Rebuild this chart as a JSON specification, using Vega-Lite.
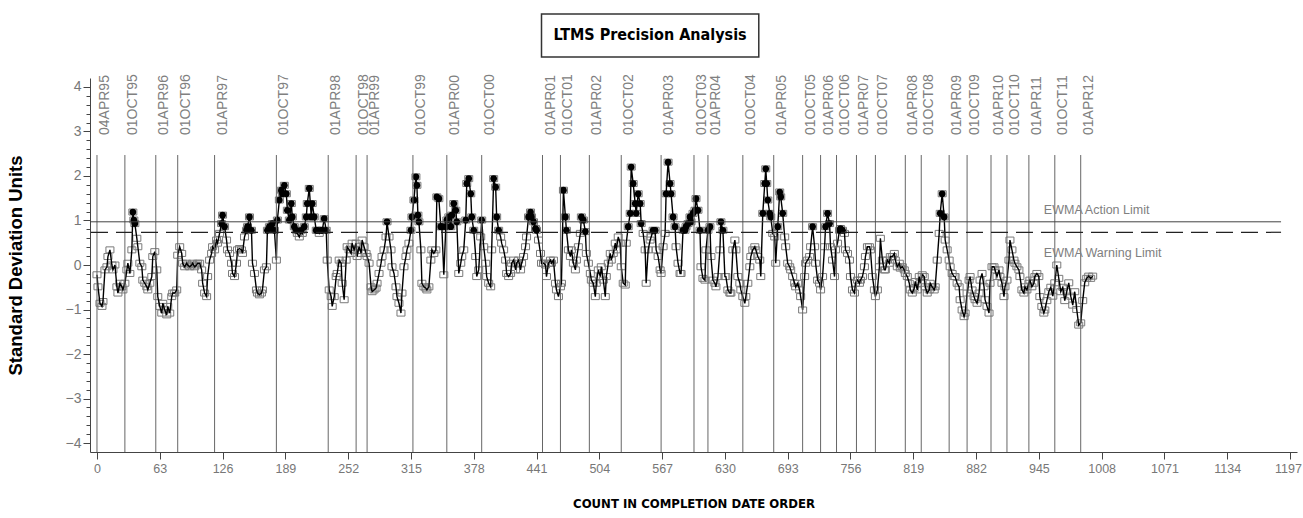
{
"$schema": "https://vega.github.io/schema/vega-lite/v6.json",
"width": 1207, "height": 374,
"autosize": "none",
"padding": {"left": 90, "top": 78, "right": 6, "bottom": 66},
"background": "white",
"config": {"view": {"stroke": null}},
"resolve": {"axis": {"y": "independent"}},
"data": {"values": [
{"n":0,"v":-0.22},{"n":1,"v":-0.49},{"n":3,"v":-0.86},{"n":5,"v":-0.93},{"n":6,"v":-0.82},{"n":8,"v":-0.11},{"n":10,"v":-0.04},{"n":11,"v":0.19},{"n":13,"v":0.34},{"n":15,"v":0.0},{"n":16,"v":-0.11},{"n":18,"v":0.0},{"n":20,"v":-0.49},{"n":21,"v":-0.63},{"n":23,"v":-0.41},{"n":25,"v":-0.49},{"n":26,"v":-0.56},{"n":28,"v":-0.41},{"n":30,"v":-0.11},{"n":31,"v":0.04},{"n":33,"v":-0.19},{"n":35,"v":0.34},{"n":36,"v":1.19},{"n":37,"v":1.01},{"n":38,"v":0.93},{"n":40,"v":0.6},{"n":41,"v":0.41},{"n":43,"v":0.04},{"n":45,"v":-0.04},{"n":46,"v":-0.34},{"n":48,"v":-0.41},{"n":50,"v":-0.49},{"n":51,"v":-0.56},{"n":53,"v":-0.41},{"n":55,"v":-0.26},{"n":56,"v":0.19},{"n":58,"v":0.3},{"n":60,"v":-0.11},{"n":61,"v":-0.71},{"n":63,"v":-0.93},{"n":65,"v":-1.08},{"n":66,"v":-0.86},{"n":68,"v":-1.01},{"n":70,"v":-1.12},{"n":71,"v":-0.93},{"n":73,"v":-1.08},{"n":75,"v":-0.71},{"n":76,"v":-0.63},{"n":78,"v":-0.63},{"n":80,"v":-0.56},{"n":81,"v":0.22},{"n":83,"v":0.41},{"n":85,"v":0.26},{"n":86,"v":0.04},{"n":88,"v":-0.04},{"n":90,"v":0.04},{"n":91,"v":0.0},{"n":93,"v":-0.04},{"n":95,"v":0.0},{"n":96,"v":0.04},{"n":98,"v":-0.04},{"n":100,"v":0.0},{"n":101,"v":0.04},{"n":103,"v":0.04},{"n":105,"v":-0.11},{"n":106,"v":-0.41},{"n":108,"v":-0.63},{"n":110,"v":-0.71},{"n":111,"v":-0.26},{"n":113,"v":0.11},{"n":115,"v":0.26},{"n":116,"v":0.41},{"n":118,"v":0.34},{"n":120,"v":0.56},{"n":121,"v":0.49},{"n":123,"v":0.71},{"n":125,"v":0.93},{"n":126,"v":1.12},{"n":128,"v":0.86},{"n":130,"v":0.56},{"n":131,"v":0.34},{"n":133,"v":0.26},{"n":135,"v":0.04},{"n":136,"v":-0.19},{"n":138,"v":-0.26},{"n":140,"v":0.04},{"n":141,"v":0.34},{"n":143,"v":0.37},{"n":145,"v":0.34},{"n":146,"v":0.26},{"n":148,"v":0.63},{"n":150,"v":0.78},{"n":151,"v":0.86},{"n":153,"v":1.08},{"n":155,"v":0.78},{"n":156,"v":0.04},{"n":158,"v":-0.19},{"n":160,"v":-0.56},{"n":161,"v":-0.63},{"n":163,"v":-0.67},{"n":165,"v":-0.63},{"n":166,"v":-0.56},{"n":168,"v":-0.11},{"n":170,"v":-0.04},{"n":171,"v":0.78},{"n":173,"v":0.86},{"n":175,"v":0.82},{"n":176,"v":0.93},{"n":178,"v":0.78},{"n":180,"v":0.11},{"n":181,"v":1.01},{"n":183,"v":1.46},{"n":185,"v":1.68},{"n":186,"v":1.6},{"n":188,"v":1.79},{"n":190,"v":1.6},{"n":191,"v":1.23},{"n":193,"v":1.01},{"n":195,"v":1.38},{"n":196,"v":1.08},{"n":198,"v":0.86},{"n":200,"v":0.78},{"n":201,"v":0.71},{"n":203,"v":0.63},{"n":205,"v":0.78},{"n":206,"v":0.71},{"n":208,"v":0.86},{"n":210,"v":1.08},{"n":211,"v":1.38},{"n":213,"v":1.72},{"n":215,"v":1.08},{"n":216,"v":1.38},{"n":218,"v":1.08},{"n":220,"v":0.78},{"n":221,"v":0.78},{"n":223,"v":0.71},{"n":225,"v":0.78},{"n":226,"v":0.78},{"n":228,"v":1.04},{"n":230,"v":0.78},{"n":231,"v":0.11},{"n":233,"v":-0.56},{"n":235,"v":-0.71},{"n":236,"v":-0.93},{"n":238,"v":-0.71},{"n":240,"v":-0.26},{"n":241,"v":-0.19},{"n":243,"v":0.11},{"n":245,"v":0.04},{"n":246,"v":-0.41},{"n":248,"v":-0.78},{"n":250,"v":0.11},{"n":251,"v":0.41},{"n":253,"v":0.34},{"n":255,"v":0.26},{"n":256,"v":0.49},{"n":258,"v":0.34},{"n":260,"v":0.49},{"n":261,"v":0.19},{"n":263,"v":0.41},{"n":265,"v":0.26},{"n":266,"v":0.56},{"n":268,"v":0.41},{"n":270,"v":0.26},{"n":271,"v":0.19},{"n":273,"v":0.04},{"n":275,"v":-0.49},{"n":276,"v":-0.6},{"n":278,"v":-0.56},{"n":280,"v":-0.52},{"n":281,"v":-0.41},{"n":283,"v":-0.19},{"n":285,"v":0.04},{"n":286,"v":0.19},{"n":288,"v":0.34},{"n":290,"v":0.63},{"n":291,"v":0.97},{"n":293,"v":0.63},{"n":295,"v":0.34},{"n":296,"v":-0.04},{"n":298,"v":-0.19},{"n":300,"v":-0.49},{"n":301,"v":-0.71},{"n":303,"v":-0.86},{"n":305,"v":-1.08},{"n":306,"v":-0.63},{"n":308,"v":-0.04},{"n":310,"v":0.19},{"n":311,"v":0.34},
{"n":313,"v":0.49},{"n":315,"v":0.78},{"n":316,"v":1.08},{"n":318,"v":1.46},{"n":320,"v":1.98},{"n":321,"v":1.79},{"n":322,"v":1.12},{"n":323,"v":0.97},{"n":325,"v":0.34},{"n":326,"v":-0.41},{"n":328,"v":-0.49},{"n":330,"v":-0.52},{"n":331,"v":-0.56},{"n":333,"v":-0.49},{"n":335,"v":0.11},{"n":336,"v":0.34},{"n":338,"v":0.26},{"n":340,"v":0.34},{"n":341,"v":1.53},{"n":343,"v":1.49},{"n":345,"v":0.86},{"n":346,"v":0.86},{"n":348,"v":-0.22},{"n":350,"v":0.86},{"n":351,"v":1.01},{"n":353,"v":1.08},{"n":355,"v":0.86},{"n":356,"v":1.12},{"n":358,"v":1.38},{"n":360,"v":1.23},{"n":361,"v":0.97},{"n":363,"v":-0.19},{"n":365,"v":0.04},{"n":366,"v":0.19},{"n":368,"v":0.34},{"n":370,"v":1.01},{"n":371,"v":1.83},{"n":373,"v":1.94},{"n":375,"v":1.6},{"n":376,"v":1.08},{"n":378,"v":0.78},{"n":380,"v":0.19},{"n":381,"v":-0.26},{"n":383,"v":-0.11},{"n":385,"v":0.63},{"n":386,"v":1.01},{"n":388,"v":0.41},{"n":390,"v":0.04},{"n":391,"v":-0.26},{"n":393,"v":-0.41},{"n":395,"v":-0.49},{"n":396,"v":0.34},{"n":398,"v":1.94},{"n":400,"v":1.75},{"n":401,"v":1.08},{"n":403,"v":0.78},{"n":405,"v":0.63},{"n":406,"v":0.49},{"n":408,"v":0.34},{"n":410,"v":0.11},{"n":411,"v":-0.19},{"n":413,"v":-0.26},{"n":415,"v":-0.19},{"n":416,"v":0.04},{"n":418,"v":0.11},{"n":420,"v":-0.11},{"n":421,"v":0.04},{"n":423,"v":0.11},{"n":425,"v":-0.11},{"n":426,"v":0.04},{"n":428,"v":0.19},{"n":430,"v":0.41},{"n":431,"v":0.63},{"n":433,"v":1.08},{"n":435,"v":1.19},{"n":436,"v":1.08},{"n":438,"v":0.97},{"n":440,"v":0.82},{"n":441,"v":0.78},{"n":443,"v":0.56},{"n":445,"v":0.26},{"n":446,"v":0.04},{"n":448,"v":0.04},{"n":450,"v":0.0},{"n":451,"v":-0.26},{"n":453,"v":0.04},{"n":455,"v":0.11},{"n":456,"v":0.04},{"n":458,"v":0.11},{"n":460,"v":-0.41},{"n":461,"v":-0.56},{"n":463,"v":-0.71},{"n":465,"v":-0.49},{"n":466,"v":-0.41},{"n":468,"v":1.68},{"n":470,"v":1.08},{"n":471,"v":0.78},{"n":473,"v":0.34},{"n":475,"v":0.19},{"n":476,"v":0.34},{"n":478,"v":0.04},{"n":480,"v":-0.11},{"n":481,"v":0.11},{"n":483,"v":0.41},{"n":485,"v":0.71},{"n":486,"v":1.08},{"n":488,"v":1.01},{"n":490,"v":0.75},{"n":491,"v":0.26},{"n":493,"v":0.04},{"n":495,"v":-0.19},{"n":496,"v":-0.34},{"n":498,"v":-0.41},{"n":500,"v":-0.71},{"n":501,"v":-0.41},{"n":503,"v":-0.11},{"n":505,"v":-0.26},{"n":506,"v":-0.04},{"n":508,"v":-0.34},{"n":510,"v":-0.71},{"n":511,"v":-0.26},{"n":513,"v":0.04},{"n":515,"v":0.26},{"n":516,"v":0.11},{"n":518,"v":0.26},{"n":520,"v":0.49},{"n":521,"v":0.34},{"n":523,"v":0.63},{"n":525,"v":0.49},{"n":526,"v":-0.04},{"n":528,"v":-0.41},{"n":530,"v":-0.45},{"n":531,"v":0.49},{"n":533,"v":0.86},{"n":535,"v":1.16},{"n":536,"v":2.2},{"n":538,"v":1.83},{"n":540,"v":1.38},{"n":541,"v":1.16},{"n":543,"v":1.6},{"n":545,"v":1.38},{"n":546,"v":0.93},{"n":548,"v":0.71},{"n":550,"v":0.34},{"n":551,"v":-0.41},{"n":553,"v":0.34},{"n":555,"v":0.56},{"n":556,"v":0.63},{"n":558,"v":0.78},{"n":560,"v":0.78},{"n":561,"v":0.34},{"n":563,"v":0.19},{"n":565,"v":-0.11},{"n":566,"v":-0.19},{"n":568,"v":0.41},{"n":570,"v":0.71},{"n":571,"v":1.6},{"n":573,"v":2.31},{"n":575,"v":1.83},{"n":576,"v":1.6},{"n":578,"v":1.08},{"n":580,"v":0.86},{"n":581,"v":0.41},{"n":583,"v":0.04},{"n":585,"v":-0.19},{"n":586,"v":-0.19},{"n":588,"v":0.78},{"n":590,"v":0.78},{"n":591,"v":0.86},{"n":593,"v":0.93},{"n":595,"v":1.08},{"n":596,"v":0.97},{"n":598,"v":1.16},{"n":600,"v":1.23},{"n":601,"v":1.49},{"n":603,"v":1.23},{"n":605,"v":0.78},{"n":606,"v":-0.04},{"n":608,"v":-0.3},{"n":610,"v":-0.34},{"n":611,"v":0.34},{"n":613,"v":0.78},{"n":615,"v":0.86},{"n":616,"v":0.19},{"n":618,"v":-0.34},{"n":620,"v":-0.41},{"n":621,"v":-0.49},{"n":623,"v":-0.26},{"n":625,"v":0.34},{"n":626,"v":0.97},{"n":628,"v":0.78},{"n":630,"v":-0.26},
{"n":631,"v":-0.26},{"n":633,"v":-0.56},{"n":635,"v":-0.63},{"n":636,"v":-0.63},{"n":638,"v":0.34},{"n":640,"v":0.56},{"n":641,"v":0.34},{"n":643,"v":-0.26},{"n":645,"v":-0.41},{"n":646,"v":-0.56},{"n":648,"v":-0.71},{"n":650,"v":-0.86},{"n":651,"v":-0.71},{"n":653,"v":-0.41},{"n":655,"v":-0.04},{"n":656,"v":0.19},{"n":658,"v":0.34},{"n":660,"v":0.41},{"n":661,"v":0.34},{"n":663,"v":0.19},{"n":665,"v":0.11},{"n":666,"v":-0.26},{"n":668,"v":1.16},{"n":670,"v":1.83},{"n":671,"v":2.16},{"n":672,"v":1.83},{"n":673,"v":1.46},{"n":675,"v":1.16},{"n":676,"v":1.08},{"n":678,"v":0.71},{"n":680,"v":0.63},{"n":681,"v":0.04},{"n":683,"v":0.86},{"n":685,"v":1.64},{"n":686,"v":1.53},{"n":688,"v":1.16},{"n":690,"v":0.63},{"n":691,"v":0.41},{"n":693,"v":0.04},{"n":695,"v":-0.04},{"n":696,"v":-0.11},{"n":698,"v":-0.26},{"n":700,"v":-0.41},{"n":701,"v":-0.49},{"n":703,"v":-0.41},{"n":705,"v":-0.56},{"n":706,"v":-0.71},{"n":708,"v":-1.01},{"n":710,"v":-0.26},{"n":711,"v":0.04},{"n":713,"v":0.11},{"n":715,"v":0.19},{"n":716,"v":0.41},{"n":718,"v":0.86},{"n":720,"v":0.41},{"n":721,"v":0.04},{"n":723,"v":-0.34},{"n":725,"v":-0.41},{"n":726,"v":-0.56},{"n":728,"v":-0.26},{"n":730,"v":0.41},{"n":731,"v":0.86},{"n":733,"v":1.16},{"n":735,"v":0.93},{"n":736,"v":0.41},{"n":738,"v":0.11},{"n":740,"v":-0.26},{"n":741,"v":0.34},{"n":743,"v":0.49},{"n":745,"v":0.78},{"n":746,"v":0.82},{"n":748,"v":0.78},{"n":750,"v":0.71},{"n":751,"v":0.34},{"n":753,"v":0.26},{"n":755,"v":0.11},{"n":756,"v":-0.26},{"n":758,"v":-0.56},{"n":760,"v":-0.63},{"n":761,"v":-0.41},{"n":763,"v":-0.34},{"n":765,"v":-0.41},{"n":766,"v":-0.34},{"n":768,"v":-0.26},{"n":770,"v":-0.04},{"n":771,"v":0.19},{"n":773,"v":0.41},{"n":775,"v":0.41},{"n":776,"v":0.34},{"n":778,"v":-0.26},{"n":780,"v":-0.56},{"n":781,"v":-0.71},{"n":783,"v":-0.56},{"n":785,"v":-0.04},{"n":786,"v":0.6},{"n":788,"v":0.11},{"n":790,"v":-0.11},{"n":791,"v":-0.11},{"n":793,"v":0.11},{"n":795,"v":0.04},{"n":796,"v":0.19},{"n":798,"v":0.19},{"n":800,"v":0.26},{"n":801,"v":0.11},{"n":803,"v":-0.04},{"n":805,"v":0.04},{"n":806,"v":-0.07},{"n":808,"v":-0.04},{"n":810,"v":-0.11},{"n":811,"v":-0.19},{"n":813,"v":-0.26},{"n":815,"v":-0.41},{"n":816,"v":-0.56},{"n":818,"v":-0.63},{"n":820,"v":-0.52},{"n":821,"v":-0.37},{"n":823,"v":-0.56},{"n":825,"v":-0.26},{"n":826,"v":-0.41},{"n":828,"v":-0.22},{"n":830,"v":-0.26},{"n":831,"v":-0.49},{"n":833,"v":-0.63},{"n":835,"v":-0.56},{"n":836,"v":-0.41},{"n":838,"v":-0.49},{"n":840,"v":-0.56},{"n":841,"v":-0.49},{"n":843,"v":0.11},{"n":845,"v":0.71},{"n":846,"v":1.16},{"n":848,"v":1.6},{"n":850,"v":1.08},{"n":851,"v":0.56},{"n":853,"v":0.34},{"n":855,"v":0.11},{"n":856,"v":-0.04},{"n":858,"v":-0.19},{"n":860,"v":-0.26},{"n":861,"v":-0.26},{"n":863,"v":-0.41},{"n":865,"v":-0.49},{"n":866,"v":-0.78},{"n":868,"v":-1.01},{"n":870,"v":-1.16},{"n":871,"v":-1.08},{"n":873,"v":-0.63},{"n":875,"v":-0.34},{"n":876,"v":-0.26},{"n":878,"v":-0.56},{"n":880,"v":-0.71},{"n":881,"v":-0.78},{"n":883,"v":-0.86},{"n":885,"v":-0.63},{"n":886,"v":-0.34},{"n":888,"v":-0.19},{"n":890,"v":-0.49},{"n":891,"v":-0.78},{"n":893,"v":-0.93},{"n":895,"v":-1.08},{"n":896,"v":-0.41},{"n":898,"v":-0.04},{"n":900,"v":-0.04},{"n":901,"v":-0.11},{"n":903,"v":-0.26},{"n":905,"v":-0.11},{"n":906,"v":-0.26},{"n":908,"v":-0.41},{"n":910,"v":-0.71},{"n":911,"v":-0.49},{"n":913,"v":-0.34},{"n":915,"v":0.11},{"n":916,"v":0.56},{"n":918,"v":0.34},{"n":920,"v":0.11},{"n":921,"v":0.04},{"n":923,"v":-0.04},{"n":925,"v":-0.11},{"n":926,"v":-0.26},{"n":928,"v":-0.56},{"n":930,"v":-0.63},{"n":931,"v":-0.49},{"n":933,"v":-0.56},{"n":935,"v":-0.41},{"n":936,"v":-0.34},{"n":938,"v":-0.49},{"n":940,"v":-0.41},{"n":941,"v":-0.26},{"n":943,"v":-0.19},{"n":945,"v":-0.26},{"n":946,"v":-0.71},{"n":948,"v":-0.93},{"n":950,"v":-1.08},{"n":951,"v":-1.01},
{"n":953,"v":-0.8},{"n":955,"v":-0.6},{"n":957,"v":-0.5},{"n":959,"v":-0.7},{"n":961,"v":-0.4},{"n":963,"v":0.0},{"n":965,"v":-0.3},{"n":967,"v":-0.6},{"n":969,"v":-0.5},{"n":971,"v":-0.8},{"n":973,"v":-0.6},{"n":975,"v":-0.4},{"n":977,"v":-0.7},{"n":979,"v":-0.9},{"n":981,"v":-0.6},{"n":983,"v":-1.0},{"n":985,"v":-1.35},{"n":987,"v":-1.3},{"n":989,"v":-0.8},{"n":991,"v":-0.4},{"n":993,"v":-0.3},{"n":995,"v":-0.25},{"n":997,"v":-0.3},{"n":999,"v":-0.25}
]},
"layer": [
{"mark": {"type": "point", "shape": "M-1,-0.75H1V0.75H-1Z", "filled": false, "stroke": "#7a7a7a", "strokeWidth": 1, "size": 64, "opacity": 1},
 "encoding": {
  "x": {"field": "n", "type": "quantitative", "scale": {"domain": [-7, 1204], "nice": false, "zero": false},
   "axis": {"title": "COUNT IN COMPLETION DATE ORDER", "titleFont": "Liberation Sans Narrow, DejaVu Sans Condensed, sans-serif", "titleFontSize": 13, "titleFontWeight": "bold", "titleColor": "#000", "titlePadding": 23,
    "values": [0,15.75,31.5,47.25,63,78.75,94.5,110.25,126,141.75,157.5,173.25,189,204.75,220.5,236.25,252,267.75,283.5,299.25,315,330.75,346.5,362.25,378,393.75,409.5,425.25,441,456.75,472.5,488.25,504,519.75,535.5,551.25,567,582.75,598.5,614.25,630,645.75,661.5,677.25,693,708.75,724.5,740.25,756,771.75,787.5,803.25,819,834.75,850.5,866.25,882,897.75,913.5,929.25,945,960.75,976.5,992.25,1008,1023.75,1039.5,1055.25,1071,1086.75,1102.5,1118.25,1134,1149.75,1165.5,1181.25,1197],
    "format": "d", "labelExpr": "datum.value % 63 === 0 ? datum.label : ''", "labelOverlap": false, "labelFlush": false,
    "labelFont": "Liberation Sans", "labelFontSize": 12.5, "labelColor": "#777", "labelPadding": 3,
    "labelOffset": {"condition": {"test": "datum.value === 1197", "value": -2}, "value": 0},
    "tickSize": {"condition": {"test": "datum.value % 63 === 0", "value": 7}, "value": 4},
    "tickColor": "#444", "domainColor": "#444", "grid": false}},
  "y": {"field": "v", "type": "quantitative", "scale": {"domain": [-4.2, 4.2], "nice": false, "zero": false},
   "axis": {"orient": "left", "title": "Standard Deviation Units", "titleFont": "Liberation Sans", "titleFontSize": 18.5, "titleFontWeight": "bold", "titleColor": "#000", "titlePadding": 40,
    "values": [-4,-3,-2,-1,0,1,2,3,4], "format": "d", "labelOverlap": false, "labelFlush": false,
    "labelFont": "Liberation Sans", "labelFontSize": 14, "labelColor": "#777", "labelPadding": 2,
    "tickSize": 7, "tickColor": "#444", "domainColor": "#444", "grid": false}}
 }},
{"mark": {"type": "line", "color": "#000", "strokeWidth": 1.4},
 "encoding": {"x": {"field": "n", "type": "quantitative"},
  "y": {"field": "v", "type": "quantitative",
   "axis": {"orient": "left", "title": null, "labels": false, "domain": false, "grid": false, "tickSize": 4, "tickColor": "#444",
    "values": [-4,-3.8,-3.6,-3.4,-3.2,-3,-2.8,-2.6,-2.4,-2.2,-2,-1.8,-1.6,-1.4,-1.2,-1,-0.8,-0.6,-0.4,-0.2,0,0.2,0.4,0.6,0.8,1,1.2,1.4,1.6,1.8,2,2.2,2.4,2.6,2.8,3,3.2,3.4,3.6,3.8,4]}}}},
{"transform": [{"filter": "datum.v > 0.74"}],
 "mark": {"type": "circle", "color": "#000", "size": 45, "opacity": 1},
 "encoding": {"x": {"field": "n", "type": "quantitative"}, "y": {"field": "v", "type": "quantitative", "axis": null}}},
{"data": {"name": "dates", "values": [
 {"d":"04APR95","n":0},{"d":"01OCT95","n":28},{"d":"01APR96","n":59},{"d":"01OCT96","n":81},{"d":"01APR97","n":118},{"d":"01OCT97","n":180},{"d":"01APR98","n":232},{"d":"01OCT98","n":260},{"d":"01APR99","n":271},{"d":"01OCT99","n":317},{"d":"01APR00","n":351},{"d":"01OCT00","n":386},{"d":"01APR01","n":447},{"d":"01OCT01","n":465},{"d":"01APR02","n":494},{"d":"01OCT02","n":526},{"d":"01APR03","n":566},{"d":"01OCT03","n":599},{"d":"01APR04","n":613},{"d":"01OCT04","n":648},{"d":"01APR05","n":679},{"d":"01OCT05","n":708},{"d":"01APR06","n":726},{"d":"01OCT06","n":742},{"d":"01APR07","n":762},{"d":"01OCT07","n":781},{"d":"01APR08","n":811},{"d":"01OCT08","n":827},{"d":"01APR09","n":855},{"d":"01OCT09","n":873},{"d":"01APR10","n":897},{"d":"01OCT10","n":913},{"d":"01APR11","n":935},{"d":"01OCT11","n":961},{"d":"01APR12","n":987}]},
 "layer": [
  {"mark": {"type": "rule", "color": "#666", "strokeWidth": 1},
   "encoding": {"x": {"field": "n", "type": "quantitative"}, "y": {"datum": 2.47, "axis": null}, "y2": {"datum": -4.2}}},
  {"mark": {"type": "text", "angle": 270, "align": "left", "baseline": "top", "font": "Liberation Sans", "fontSize": 14, "color": "#808080", "dy": 1},
   "encoding": {"x": {"field": "n", "type": "quantitative"}, "y": {"datum": 2.92, "axis": null}, "text": {"field": "d"}}}
 ]},
{"data": {"values": [{"label": "EWMA Action Limit", "v": 0.97}]},
 "layer": [
  {"mark": {"type": "rule", "color": "#444", "strokeWidth": 1},
   "encoding": {"x": {"datum": -6}, "x2": {"datum": 1188}, "y": {"field": "v", "type": "quantitative", "axis": null}}},
  {"mark": {"type": "text", "align": "left", "baseline": "middle", "font": "Liberation Sans", "fontSize": 12.5, "color": "#808080", "dy": -12},
   "encoding": {"x": {"datum": 950}, "y": {"field": "v", "type": "quantitative", "axis": null}, "text": {"field": "label"}}}
 ]},
{"data": {"values": [{"label": "EWMA Warning Limit", "v": 0.735}]},
 "layer": [
  {"mark": {"type": "rule", "color": "#222", "strokeWidth": 1.2, "strokeDash": [17, 8]},
   "encoding": {"x": {"datum": -6}, "x2": {"datum": 1188}, "y": {"field": "v", "type": "quantitative", "axis": null}}},
  {"mark": {"type": "text", "align": "left", "baseline": "middle", "font": "Liberation Sans", "fontSize": 12.5, "color": "#808080", "dy": 21},
   "encoding": {"x": {"datum": 950}, "y": {"field": "v", "type": "quantitative", "axis": null}, "text": {"field": "label"}}}
 ]},
{"data": {"values": [{"t": "LTMS Precision Analysis"}]},
 "layer": [
  {"mark": {"type": "rect", "fill": null, "fillOpacity": 0, "stroke": "#333", "strokeWidth": 1.5},
   "encoding": {"x": {"datum": 446}, "x2": {"datum": 664}, "y": {"datum": 5.64, "axis": null}, "y2": {"datum": 4.67}}},
  {"mark": {"type": "text", "align": "center", "baseline": "middle", "font": "Liberation Sans Narrow, DejaVu Sans Condensed, sans-serif", "fontSize": 16, "fontWeight": "bold", "color": "#000"},
   "encoding": {"x": {"datum": 555}, "y": {"datum": 5.17, "axis": null}, "text": {"field": "t"}}}
 ]}
]
}
